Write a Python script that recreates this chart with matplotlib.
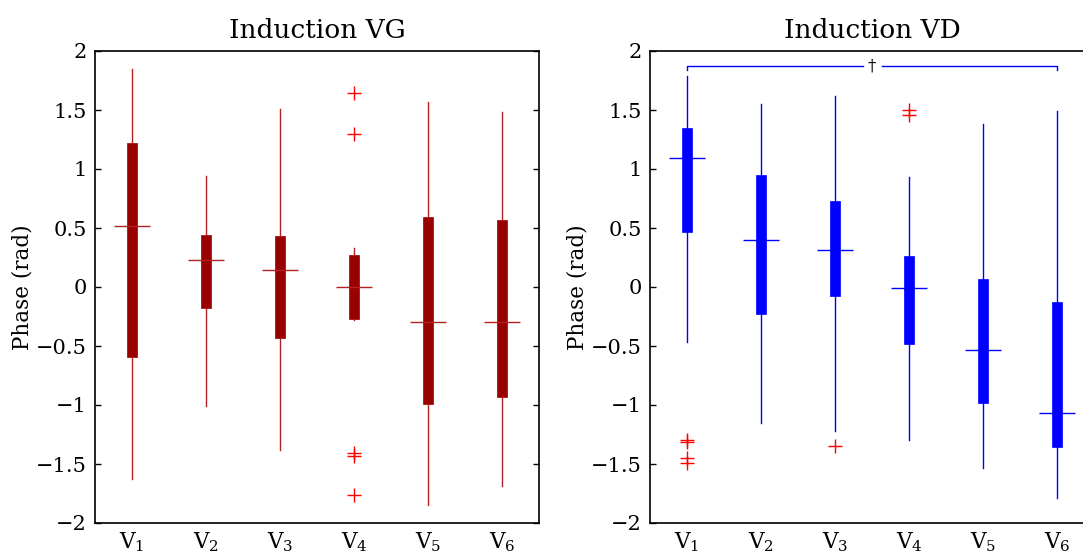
import matplotlib
matplotlib.use("Agg")
import matplotlib.pyplot as plt

plt.rcParams['font.family'] = ['DejaVu Serif']
plt.rcParams['mathtext.fontset'] = 'dejavuserif'

labels = [r'$\mathrm{V}_1$', r'$\mathrm{V}_2$', r'$\mathrm{V}_3$',
          r'$\mathrm{V}_4$', r'$\mathrm{V}_5$', r'$\mathrm{V}_6$']

# Induction VG
vg_whislo = [-1.63, -1.01, -1.38, -0.28, -1.85, -1.69]
vg_q1 = [-0.59, -0.18, -0.43, -0.27, -0.99, -0.93]
vg_med = [0.52, 0.23, 0.14, 0.00, -0.30, -0.30]
vg_q3 = [1.22, 0.44, 0.43, 0.27, 0.59, 0.57]
vg_whishi = [1.85, 0.94, 1.51, 0.33, 1.57, 1.48]
vg_fliers = [[], [], [], [1.64, 1.30, -1.41, -1.43, -1.76], [], []]

# Induction VD
vd_whislo = [-0.47, -1.15, -1.22, -1.30, -1.53, -1.79]
vd_q1 = [0.47, -0.23, -0.08, -0.48, -0.98, -1.36]
vd_med = [1.09, 0.40, 0.31, -0.01, -0.53, -1.07]
vd_q3 = [1.35, 0.95, 0.73, 0.26, 0.07, -0.13]
vd_whishi = [1.79, 1.55, 1.62, 0.93, 1.38, 1.49]
vd_fliers = [[-1.30, -1.31, -1.45, -1.49], [], [-1.35], [1.50, 1.46], [], []]

bracket_y = 1.87
bracket_tip = 1.84


def draw(ax, title, whislo, q1, med, q3, whishi, fliers, color, medcolor):
    pos = list(range(1, len(labels) + 1))
    stats = []
    for i in range(len(labels)):
        stats.append(dict(whislo=whislo[i], q1=q1[i], med=med[i], q3=q3[i],
                          whishi=whishi[i], fliers=fliers[i]))
    ax.bxp(stats, positions=pos, widths=0.135, patch_artist=True,
           showcaps=False,
           boxprops=dict(facecolor=color, edgecolor=color, linewidth=0.5),
           whiskerprops=dict(color=medcolor, linewidth=1.0),
           medianprops=dict(linewidth=0),
           flierprops=dict(marker='+', markeredgecolor='#ff0000',
                           markersize=10, markeredgewidth=1.0, linestyle='none'))
    ax.hlines(med, [p - 0.245 for p in pos], [p + 0.245 for p in pos],
              color=medcolor, linewidth=1.0, zorder=4)
    ax.set_xlim(0.5, 6.5)
    ax.set_ylim(-2, 2)
    ax.set_yticks([-2, -1.5, -1, -0.5, 0, 0.5, 1, 1.5, 2])
    ax.set_yticklabels(['\u22122', '\u22121.5', '\u22121', '\u22120.5', '0',
                        '0.5', '1', '1.5', '2'])
    ax.set_xticks(pos)
    ax.set_xticklabels(labels)
    ax.tick_params(axis='y', direction='in', length=4, width=1, right=True,
                   labelsize=15, pad=6)
    ax.tick_params(axis='x', length=0, labelsize=15.5, pad=5)
    for s in ax.spines.values():
        s.set_linewidth(1.2)
    ax.set_title(title, fontsize=19, pad=9)
    ax.set_ylabel('Phase (rad)', fontsize=15.5, labelpad=2)


fig = plt.figure(figsize=(10.83, 5.54), dpi=100)
ax1 = fig.add_axes([95 / 1083, 31 / 554, 444 / 1083, 472 / 554])
ax2 = fig.add_axes([650 / 1083, 31 / 554, 444 / 1083, 472 / 554])

draw(ax1, 'Induction VG', vg_whislo, vg_q1, vg_med, vg_q3, vg_whishi, vg_fliers,
     '#990000', '#b22222')
draw(ax2, 'Induction VD', vd_whislo, vd_q1, vd_med, vd_q3, vd_whishi, vd_fliers,
     '#0000ff', '#0000ff')

ax2.plot([1, 1, 3.38], [bracket_tip, bracket_y, bracket_y], color='#0000ff', linewidth=1.0)
ax2.plot([3.64, 6, 6], [bracket_y, bracket_y, bracket_tip], color='#0000ff', linewidth=1.0)
ax2.text(3.5, bracket_y, '\u2020', ha='center', va='center', fontsize=12, color='black')

fig.savefig('out.png', dpi=100)
